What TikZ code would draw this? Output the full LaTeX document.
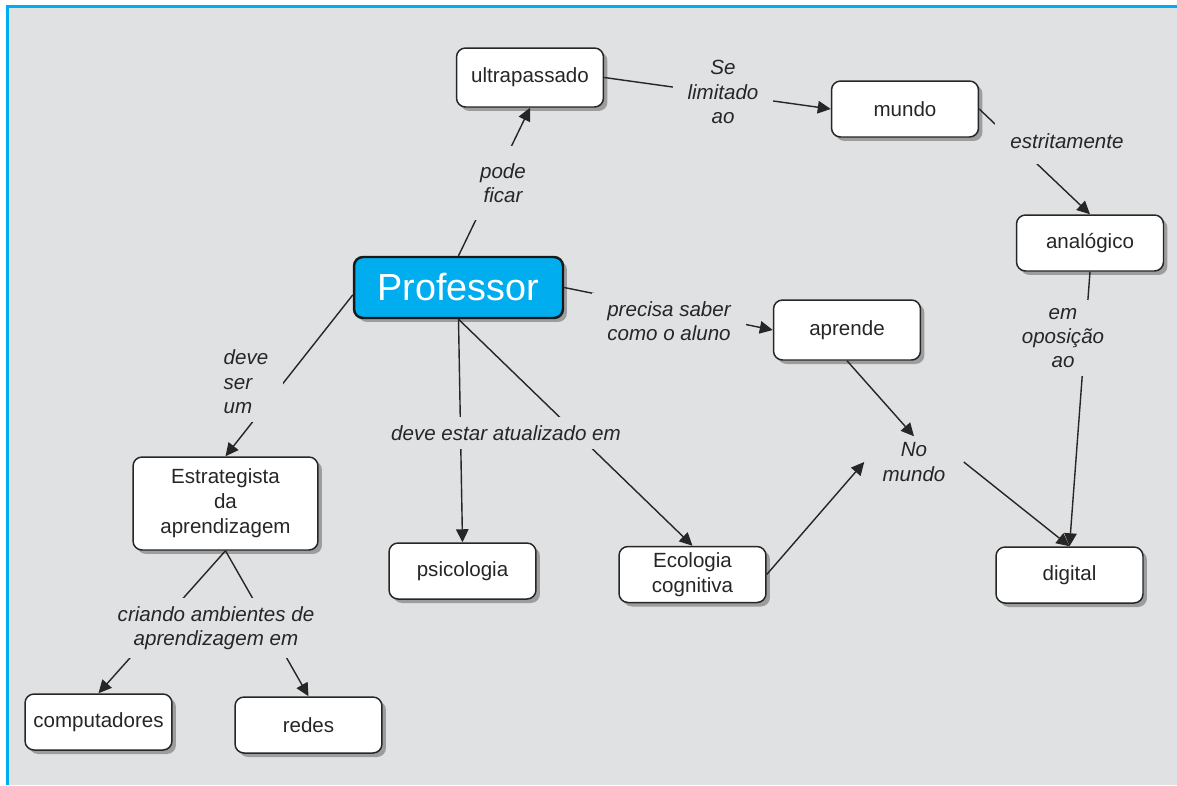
\documentclass[tikz,border=0pt]{standalone}
\usepackage{fontspec}
\setmainfont{Liberation Sans}
\usetikzlibrary{arrows.meta, shadows}
\definecolor{CmapBlue}{RGB}{0,174,239}
\definecolor{PaperGrey}{RGB}{224,225,227}
\definecolor{InkGrey}{RGB}{38,38,38}

\begin{document}
\begin{tikzpicture}[
            x=0.02cm, y=-0.02cm,
            concept/.style={
                draw=InkGrey,
                line width=0.85pt,
                fill=white,
                rounded corners=0.18cm,
                align=center,
                text=InkGrey,
                inner sep=0pt,
                minimum width=2.94cm,
                minimum height=1.12cm,
                font=\fontsize{11.7}{14.2}\selectfont,
                drop shadow={shadow xshift=0.08cm, shadow yshift=-0.08cm, fill=black, opacity=0.3}
            },
            mainbox/.style={
                concept,
                draw=black!90,
                line width=1.4pt,
                fill=CmapBlue,
                text=white,
                minimum width=4.18cm,
                minimum height=1.22cm,
                font=\fontsize{21.5}{25}\selectfont
            },
            linklabel/.style={
                fill=PaperGrey,
                align=center,
                text=InkGrey,
                inner xsep=0.3cm,
                inner ysep=0.16cm,
                font=\itshape\fontsize{11.7}{13.9}\selectfont
            },
            arrow/.style={-{Triangle[length=0.26cm, width=0.25cm]}, line width=0.8pt, draw=InkGrey}
        ]
            \useasboundingbox (0,0) rectangle (1177,785);
            \fill[white] (0,0) rectangle (1177,785);
            \fill[PaperGrey] (7.3,6.5) rectangle (1177,785);
            \draw[CmapBlue, line width=0.06cm] (7.3,785) -- (7.3,6.5) -- (1177,6.5);

            \node[concept, minimum height=1.18cm] (ultra) at (530,77.5) {ultrapassado};
            \node[concept] (mundo) at (905,109) {mundo};
            \node[concept] (analog) at (1090,243) {analógico};
            \node[mainbox] (prof) at (458.5,287.5) {Professor};
            \node[concept, minimum height=1.2cm] (aprende) at (847,330) {aprende};
            \node[concept, minimum width=3.7cm, minimum height=1.86cm] (estrat) at (225.5,503.5) {Estrategista\\da\\aprendizagem};
            \node[concept] (psico) at (462.5,571) {psicologia};
            \node[concept] (eco) at (692.5,574.5) {Ecologia\\cognitiva};
            \node[concept] (digital) at (1069.5,575) {digital};
            \node[concept] (comp) at (98.5,722) {computadores};
            \node[concept] (redes) at (308.5,725) {redes};
            \node[linklabel, inner xsep=0.36cm, inner ysep=0.12cm] (nomundo) at (914,462) {No\\mundo};

            \draw[arrow] (prof.north) -- (ultra.south);
            \draw[arrow] (ultra.east) -- (mundo.west);
            \draw[arrow] (mundo.east) -- (analog.north);
            \draw[arrow] (analog.south) -- (digital.north);
            \draw[arrow] (prof.east) -- (aprende.west);
            \draw[arrow] (aprende.south) -- (nomundo.north);
            \draw[arrow] (eco.east) -- (nomundo.west);
            \draw[arrow] (nomundo.east) -- (digital.north);
            \draw[arrow] (prof.184) -- (estrat.north);
            \draw[arrow] (prof.south) -- (psico.north);
            \draw[arrow] (prof.south) -- (eco.north);
            \draw[arrow] (estrat.south) -- (comp.north);
            \draw[arrow] (estrat.south) -- (redes.north);

            \node[linklabel, inner ysep=0.34cm] (podeficar) at (503,183) {pode\\ficar};
            \node[linklabel] (selimitado) at (723,92) {Se\\limitado\\ao};
            \node[linklabel, inner ysep=0.3cm] (estritamente) at (1067,141) {estritamente};
            \node[linklabel] (oposicao) at (1063,338) {em\\oposição\\ao};
            \node[linklabel] (precisa) at (669,321) {precisa saber\\como o aluno};
            \node[linklabel, align=left] (deveser) at (246,382) {deve\\ser\\um};
            \node[linklabel] (atualizado) at (506,433) {deve estar atualizado em};
            \node[linklabel] (criando) at (216,628) {criando ambientes de\\aprendizagem em};
        \end{tikzpicture}
\end{document}
